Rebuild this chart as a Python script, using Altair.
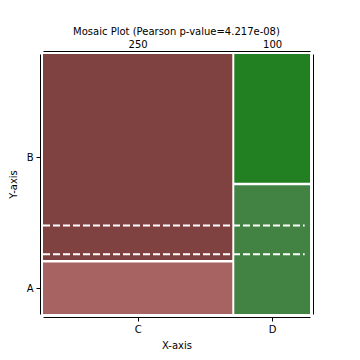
import altair as alt
import pandas as pd

# ---- data ----
x_cats = ["C", "D"]
y_cats = ["A", "B"]
counts_C = [50, 200]   # A, B
counts_D = [50, 50]    # A, B
cell_colors_C = ["#a76262", "#804141"]
cell_colors_D = ["#428242", "#227f22"]
ref_levels = [0.23, 0.34]      # dashed reference lines (fraction of height)
ref_x_range = [0.0, 0.98]
title_text = "Mosaic Plot (Pearson p-value=4.217e-08)"

W, H = 267, 260
gx = 2.0 / W
gy = 2.5 / H

col_counts = [counts_C, counts_D]
col_colors = [cell_colors_C, cell_colors_D]
totals = [sum(c) for c in col_counts]
grand = sum(totals)
avail_x = 1 - gx * (len(x_cats) - 1)

rows = []
x0 = 0.0
x_mids = []
y_mids = []
for i, xc in enumerate(x_cats):
    w = totals[i] / grand * avail_x
    x1 = x0 + w
    x_mids.append((x0 + x1) / 2)
    avail_y = 1 - gy * (len(y_cats) - 1)
    y0 = 0.0
    for j, yc in enumerate(y_cats):
        h = col_counts[i][j] / totals[i] * avail_y
        y1 = y0 + h
        if i == 0:
            y_mids.append((y0 + y1) / 2)
        rows.append(dict(x=x0, x2=x1, y=y0, y2=y1, col=col_colors[i][j],
                         cell=f"{xc}-{yc}"))
        y0 = y1 + gy
    x0 = x1 + gx

df = pd.DataFrame(rows)
ref_df = pd.DataFrame({"y": ref_levels, "x": [ref_x_range[0]] * len(ref_levels),
                       "x2": [ref_x_range[1]] * len(ref_levels)})

FONT = "DejaVu Sans"


def label_expr(mids, labels):
    expr = f"'{labels[-1]}'"
    for m, lab in reversed(list(zip(mids[:-1], labels[:-1]))):
        nxt = mids[mids.index(m) + 1]
        expr = f"datum.value < {(m + nxt) / 2} ? '{lab}' : " + expr
    return expr


axis_common = dict(domainColor="black", domainWidth=1, tickColor="black",
                   tickWidth=1, labelColor="black", labelFont=FONT,
                   labelFontSize=10, titleFont=FONT, titleFontSize=10,
                   titleFontWeight="normal", titleColor="black", grid=False,
                   offset=3)

xs = alt.Scale(domain=[0, 1], nice=False, zero=False)
ys = alt.Scale(domain=[0, 1], nice=False, zero=False)

rects = alt.Chart(df).mark_rect().encode(
    x=alt.X("x:Q", scale=xs, axis=alt.Axis(
        orient="bottom", values=x_mids, labelExpr=label_expr(x_mids, x_cats),
        title="X-axis", tickSize=4, labelPadding=3, titlePadding=6,
        **axis_common)),
    x2="x2:Q",
    y=alt.Y("y:Q", scale=ys, axis=alt.Axis(
        orient="left", values=y_mids, labelExpr=label_expr(y_mids, y_cats),
        title="Y-axis", tickSize=4, labelPadding=3, titlePadding=8,
        **axis_common)),
    y2="y2:Q",
    color=alt.Color("col:N", scale=None),
)

top_labels = [str(t) for t in totals]

rules = alt.Chart(ref_df).mark_rule(
    color="white", strokeWidth=2, strokeDash=[7, 3]
).encode(
    x=alt.X("x:Q", scale=xs, axis=alt.Axis(
        orient="top", values=x_mids, labelExpr=label_expr(x_mids, top_labels),
        title=None, ticks=False, labelPadding=2, **axis_common)),
    x2="x2:Q",
    y=alt.Y("y:Q", scale=ys, axis=alt.Axis(
        orient="right", labels=False, ticks=False, title=None, **axis_common)),
)

chart = alt.layer(rects, rules).resolve_scale(
    x="independent", y="independent"
).properties(
    width=W, height=H,
    title=alt.TitleParams(title_text, font=FONT, fontSize=10,
                          fontWeight="normal", color="black", anchor="middle",
                          offset=2),
    autosize=alt.AutoSizeParams(type="none"),
    padding={"left": 35, "top": 46, "right": 42, "bottom": 38},
).configure_view(stroke=None)

chart.save("out.html", embed_options={"renderer": "svg", "actions": False})
